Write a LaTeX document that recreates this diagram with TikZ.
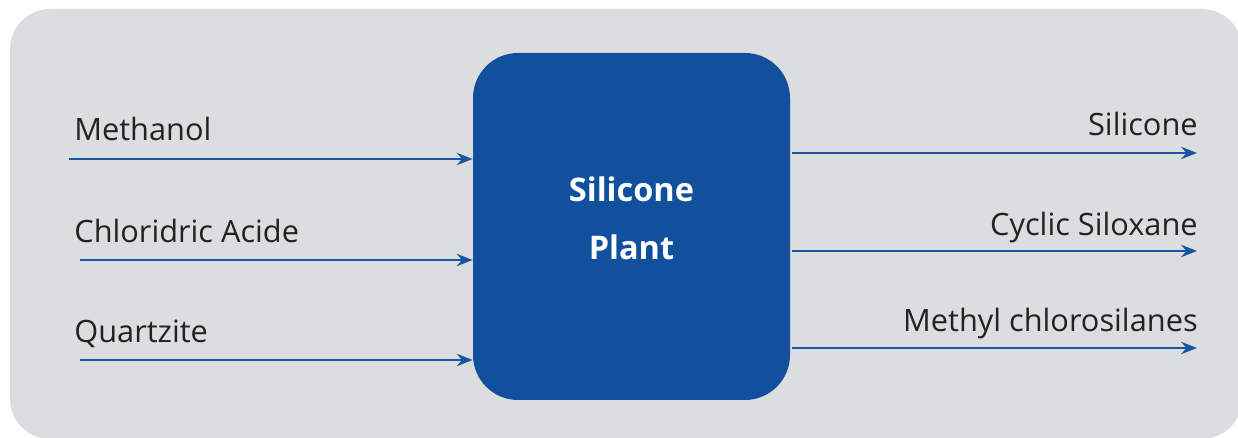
\documentclass[tikz,border=0pt]{standalone}
\usepackage{fontspec}
\setmainfont{Open Sans}
\usetikzlibrary{arrows.meta}
\definecolor{panelgray}{HTML}{DCDDDF}
\definecolor{plantblue}{HTML}{11509C}
\definecolor{flowblue}{HTML}{1A56A0}
\definecolor{labelgray}{HTML}{222222}
\tikzset{
  flow/.style={draw=flowblue, line width=1.4pt, -{Stealth[length=9pt, width=7pt]}},
  inlabel/.style={anchor=base west, inner sep=0pt, text=labelgray, font=\fontsize{17.5}{20}\selectfont},
  outlabel/.style={anchor=base east, inner sep=0pt, text=labelgray, font=\fontsize{17.5}{20}\selectfont},
}
\begin{document}
\begin{tikzpicture}
      \useasboundingbox (0,0) rectangle (24.76,8.76);
      \fill[panelgray, rounded corners=0.8cm] (0.2,-0.02) rectangle (24.84,8.58);
      \node[fill=plantblue, rounded corners=0.9cm, minimum width=6.34cm, minimum height=6.94cm] (plant) at (12.63,4.23) {};
      \node[text=white, align=center, font=\bfseries\fontsize{18.5}{33}\selectfont] (plantname) at ([yshift=0.16cm]plant.center) {Silicone\\Plant};
      % inputs
      \coordinate (methanol) at (1.38,5.58);
      \coordinate (acide) at (1.60,3.56);
      \coordinate (quartz) at (1.60,1.56);
      \node[inlabel] (lmethanol) at (1.48,5.94) {Methanol};
      \node[inlabel] (lacide) at (1.48,3.90) {Chloridric Acide};
      \node[inlabel] (lquartz) at (1.48,1.90) {Quartzite};
      \draw[flow] (methanol) -- (methanol -| plant.west);
      \draw[flow] (acide) -- (acide -| plant.west);
      \draw[flow] (quartz) -- (quartz -| plant.west);
      % outputs
      \coordinate (silicone) at (23.94,5.70);
      \coordinate (cyclic) at (23.94,3.74);
      \coordinate (methyl) at (23.94,1.80);
      \node[outlabel] (lsilicone) at (23.96,6.04) {Silicone};
      \node[outlabel] (lcyclic) at (23.96,4.04) {Cyclic Siloxane};
      \node[outlabel] (lmethyl) at (23.96,2.12) {Methyl chlorosilanes};
      \draw[flow] (silicone -| plant.east) ++(0.04,0) -- (silicone);
      \draw[flow] (cyclic -| plant.east) ++(0.04,0) -- (cyclic);
      \draw[flow] (methyl -| plant.east) ++(0.04,0) -- (methyl);
    \end{tikzpicture}
\end{document}
